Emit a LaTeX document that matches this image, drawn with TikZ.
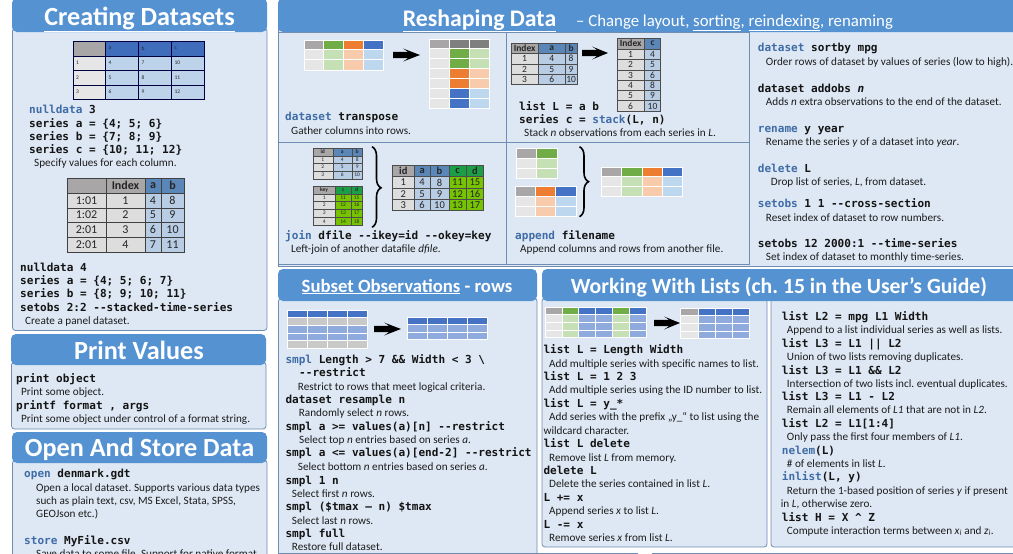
\documentclass[tikz,border=0pt]{standalone}
\usepackage{fontspec}
\usetikzlibrary{decorations.pathreplacing}
\setmainfont{Carlito}
\newfontfamily\codefont{DejaVu Sans Mono}[BoldFont={DejaVu Sans Mono Bold},BoldItalicFont={DejaVu Sans Mono Bold Oblique}]
\frenchspacing
\definecolor{hdr}{HTML}{5592D2}
\definecolor{bodyc}{HTML}{DEE8F4}
\definecolor{edge}{HTML}{6F8DB3}
\definecolor{kwc}{HTML}{3F6CA6}
\definecolor{ink}{HTML}{1C1C1C}
\definecolor{gh}{HTML}{A8A6A6}
\definecolor{gd}{HTML}{7F7F7F}
\definecolor{gl}{HTML}{E7E6E6}
\definecolor{gm}{HTML}{C9C9C9}
\definecolor{gr}{HTML}{70AD47}
\definecolor{gp}{HTML}{C5E0B4}
\definecolor{or}{HTML}{ED7D31}
\definecolor{op}{HTML}{F8CBAD}
\definecolor{bl}{HTML}{4472C4}
\definecolor{bp}{HTML}{BDD7EE}
\definecolor{bm}{HTML}{8FAADC}
\definecolor{th}{HTML}{3F6DBB}
\definecolor{tb}{HTML}{BDD3EA}
\definecolor{sh}{HTML}{5B86B8}
\definecolor{sb}{HTML}{B8CCE4}
\definecolor{sg}{HTML}{DDDDDD}
\definecolor{jg}{HTML}{1B9E45}
\definecolor{jl}{HTML}{76C400}
\tikzset{
  hdrbox/.style={fill=hdr,draw=none,rounded corners=5pt},
  bodybox/.style={fill=bodyc,draw=edge,line width=.8pt,rounded corners=3pt},
  subbox/.style={fill=bodyc,draw=edge,line width=.9pt},
  title/.style={anchor=base,text=white,font=\bfseries\fontsize{26.2}{26.2}\selectfont,inner sep=0pt},
  codetext/.style={anchor=base west,inner sep=0pt,text=black!92,font=\codefont\bfseries\fontsize{11.05}{11}\selectfont},
  desctext/.style={anchor=base west,inner sep=0pt,text=ink,font=\fontsize{11.2}{11}\selectfont},
  pcell/.style={draw=white,line width=.7pt},
  tcell/.style={draw=black!70,line width=.6pt},
  ttext/.style={text=black!85,inner sep=0pt,font=\fontsize{9}{9}\selectfont},
  bracestyle/.style={draw=black,line width=1.6pt,decorate},
}
\newcommand\kw[1]{\textcolor{kwc}{#1}}
\newcommand\cod[3]{\node[codetext] at (#1,#2) {#3};}
\newcommand\dsc[3]{\node[desctext] at (#1,#2) {#3};}
\newcommand\pgrid[3]{\foreach[count=\ri] \rw in {#3}{\foreach[count=\ci] \cl in \rw {%
  \pgfmathsetmacro\xa{{#1}[\ci-1]}\pgfmathsetmacro\xb{{#1}[\ci]}%
  \pgfmathsetmacro\ya{{#2}[\ri-1]}\pgfmathsetmacro\yb{{#2}[\ri]}%
  \path[pcell,fill=\cl] (\xa,\ya) rectangle (\xb,\yb);}}}
\newcommand\tgrid[4]{\begin{scope}[#1]\foreach[count=\ri] \rw in {#4}{\foreach[count=\ci] \cl/\tx in \rw {%
  \pgfmathsetmacro\xa{{#2}[\ci-1]}\pgfmathsetmacro\xb{{#2}[\ci]}%
  \pgfmathsetmacro\ya{{#3}[\ri-1]}\pgfmathsetmacro\yb{{#3}[\ri]}%
  \path[tcell,fill=\cl] (\xa,\ya) rectangle (\xb,\yb);
  \node[ttext] at ({(\xa+\xb)/2},{(\ya+\yb)/2}) {\tx};}}\end{scope}}
\newcommand\bigarrow[3]{\fill[black] (#1,#3-3.2) -- ({#1+15},#3-3.2) -- ({#1+10},#3-6.5) -- (#2,#3) -- ({#1+10},#3+6.5) -- ({#1+15},#3+3.2) -- (#1,#3+3.2) -- cycle;}
\begin{document}
\begin{tikzpicture}[x=1pt,y=-1pt]
\useasboundingbox (0,0) rectangle (1013,554);
\clip (0,0) rectangle (1013,554);
\fill[white] (0,0) rectangle (1013,554);
% ---- left column panels
\path[bodybox] (12.5,28) rectangle (267,330.5);
\path[hdrbox] (12,-2) rectangle (267,32);
\path[bodybox] (11.5,362) rectangle (266,429);
\path[hdrbox] (11,334) rectangle (266,365);
\path[bodybox] (12.5,460) rectangle (267,570);
\path[hdrbox] (12,432) rectangle (267,463);
\node[title] (t1) at (139.5,25.5) {\underline{Creating Datasets}};
\node[title] (t2) at (139,359) {Print Values};
\node[title] (t3) at (139.5,456.5) {Open And Store Data};
% ---- reshaping
\path[subbox] (278,20) rectangle (1020,266.5);
\path[hdrbox] (278,-2) rectangle (1025,32);
\path[subbox] (278,32) rectangle (506,142.5);
\path[subbox] (506,32) rectangle (749.5,142.5);
\path[subbox] (278,142.5) rectangle (506,264);
\path[subbox] (506,142.5) rectangle (749.5,264);
\node[title,font=\bfseries\fontsize{23.8}{23.8}\selectfont] (t4) at (479.5,26) {\underline{Reshaping Data}};
\node[anchor=base west,inner sep=0pt,text=white,font=\fontsize{16.8}{16.8}\selectfont] (t4b) at (576,26) {– Change layout, \underline{sorting}, \underline{reindexing}, renaming};
% ---- bottom panels
\path[bodybox] (278.5,298) rectangle (537,570);
\path[hdrbox] (278,269) rectangle (537,301);
\path[bodybox] (542,298) rectangle (767,547);
\path[bodybox] (771,298) rectangle (1020,547);
\path[hdrbox] (542,269) rectangle (1025,301);
\draw[edge,line width=1pt] (278,553) -- (638,553);
\draw[edge,line width=1pt] (652,553) -- (1020,553);
\node[title,font=\bfseries\fontsize{18.7}{18.7}\selectfont] (t5) at (407,292) {\underline{Subset Observations} - rows};
\node[title,font=\bfseries\fontsize{21.7}{21.7}\selectfont] (t6) at (779,293) {Working With Lists (ch. 15 in the User\symbol{39}s Guide)};
% ---- creating datasets tables
\tgrid{tcell/.append style={draw=black!75!blue,line width=.5pt},ttext/.append style={anchor=west,xshift=-13pt,font=\fontsize{5.5}{5.5}\selectfont}}
  {73,105,138,171,204}{41,56,70,85,99}
  {{gh/{},th/a,th/b,th/c},{gl/1,tb/4,tb/7,tb/10},{gl/2,tb/5,tb/8,tb/11},{gl/3,tb/6,tb/9,tb/12}}
\tgrid{tcell/.append style={draw=black!75,line width=.6pt},ttext/.append style={font=\fontsize{12}{12}\selectfont}}
  {67,106,145,161,184}{178,193,208,222,237,252}
  {{gh/{},gh/\textbf{Index},sh/\textbf{a},sh/\textbf{b}},{sg/1:01,sg/1,sb/4,sb/8},{sg/1:02,sg/2,sb/5,sb/9},{sg/2:01,sg/3,sb/6,sb/10},{sg/2:01,sg/4,sb/7,sb/11}}
\cod{29}{113.7}{\kw{nulldata} 3}
\cod{29}{127}{series a = \{4; 5; 6\}}
\cod{29}{140.3}{series b = \{7; 8; 9\}}
\cod{29}{153.6}{series c = \{10; 11; 12\}}
\dsc{34}{166.7}{Specify values for each column.}
\cod{20}{271}{nulldata 4}
\cod{20}{284.4}{series a = \{4; 5; 6; 7\}}
\cod{20}{297.7}{series b = \{8; 9; 10; 11\}}
\cod{20}{311}{setobs 2:2 --stacked-time-series}
\dsc{25}{324.3}{Create a panel dataset.}
% ---- print values
\cod{16}{382.7}{print object}
\dsc{21}{395.7}{Print some object.}
\cod{16}{409}{printf format , args}
\dsc{21}{422.7}{Print some object under control of a format string.}
% ---- open and store
\cod{24}{477.7}{\kw{open} denmark.gdt}
\dsc{36}{491}{Open a local dataset. Supports various data types}
\dsc{36}{504.3}{such as plain text, csv, MS Excel, Stata, SPSS,}
\dsc{36}{517.7}{GEOJson etc.)}
\cod{24}{544.3}{\kw{store} MyFile.csv}
\dsc{36}{557}{Save data to some file. Support for native format}
% ---- transpose
\pgrid{304,323.7,343.7,363.3,383.3}{40,49.7,59.7,70}{{gh,gr,or,bl},{gl,gp,op,bp},{gl,gp,op,bp}}
\bigarrow{393}{420}{55}
\pgrid{429,449.3,469.3,489}{39,48.7,58.7,68.7,78.7,88.7,98.7,108.7}{{gh,gd,gd},{gl,gr,gp},{gl,gr,gp},{gl,or,op},{gl,or,op},{gl,bl,bp},{gl,bl,bp}}
\cod{285}{120.7}{\kw{dataset} transpose}
\dsc{291}{134}{Gather columns into rows.}
% ---- stack
\tgrid{ttext/.append style={font=\fontsize{9.5}{9.5}\selectfont}}
  {511,538.3,565.3,577}{43,53,64,74.3,84.7}
  {{gh/\textbf{Index},sh/\textbf{a},sh/\textbf{b}},{sg/1,sb/4,sb/8},{sg/2,sb/5,sb/9},{sg/3,sb/6,sb/10}}
\bigarrow{582}{608}{53}
\tgrid{ttext/.append style={font=\fontsize{9.5}{9.5}\selectfont}}
  {617,644.3,660.7}{38.3,49,59.7,70,80,90.3,100.7,111.3}
  {{gh/\textbf{Index},sh/\textbf{c}},{sg/1,sb/4},{sg/2,sb/5},{sg/3,sb/6},{sg/4,sb/8},{sg/5,sb/9},{sg/6,sb/10}}
\cod{519}{110}{list L = a b}
\cod{519}{123.3}{series c = \kw{stack}(L, n)}
\dsc{524}{136.7}{Stack \textit{n} observations from each series in \textit{L}.}
% ---- join
\tgrid{ttext/.append style={font=\fontsize{5.5}{5.5}\selectfont},tcell/.append style={line width=.4pt}}
  {312.7,332.7,352,362.3}{148.3,155.7,163.3,171,178.7}
  {{gh/\textbf{id},sh/\textbf{a},sh/\textbf{b}},{sg/1,sb/4,sb/8},{sg/2,sb/5,sb/9},{sg/3,sb/6,sb/10}}
\tgrid{ttext/.append style={font=\fontsize{5.5}{5.5}\selectfont},tcell/.append style={line width=.4pt}}
  {313,335.3,351,362.3}{185.7,193.7,201.3,209,217.3,225.3}
  {{gh/\textbf{key},jg/\textbf{c},jg/\textbf{d}},{sg/1,jl/11,jl/15},{sg/2,jl/12,jl/16},{sg/3,jl/13,jl/17},{sg/4,jl/14,jl/18}}
\coordinate (ja) at (372,146.7);
\coordinate (jb) at (372,227.3);
\draw[bracestyle,decoration={brace,amplitude=9pt,aspect=.51}] (ja) -- (jb);
\tgrid{ttext/.append style={font=\fontsize{10.5}{10.5}\selectfont}}
  {392.3,414.3,430,449,466,483.7}{165.3,176.7,188.3,199.3,210.3}
  {{gh/\textbf{id},sh/\textbf{a},sh/\textbf{b},jg/\textbf{c},jg/\textbf{d}},{sg/1,sb/4,sb/8,jl/11,jl/15},{sg/2,sb/5,sb/9,jl/12,jl/16},{sg/3,sb/6,sb/10,jl/13,jl/17}}
\cod{285}{239.3}{\kw{join} dfile --ikey=id --okey=key}
\dsc{291}{252.3}{Left-join of another datafile \textit{dfile}.}
% ---- append
\pgrid{516.7,536.7,557}{148.3,158,168,178}{{gh,gr},{gl,gp},{gl,gp}}
\pgrid{515.7,535.7,555.7,576}{186.7,196.3,206.3,216.3}{{gh,or,bl},{gl,op,bp},{gl,op,bp}}
\coordinate (aa) at (579.5,146.7);
\coordinate (ab) at (579.5,216.7);
\draw[bracestyle,decoration={brace,amplitude=9pt}] (aa) -- (ab);
\pgrid{601.7,621.7,642,662,682}{167,176.3,186.3,196.3}{{gh,gr,or,bl},{gl,gp,op,bp},{gl,gp,op,bp}}
\cod{515}{239}{\kw{append} filename}
\dsc{520}{252.3}{Append columns and rows from another file.}
% ---- right column of reshaping
\cod{757.7}{51.7}{\kw{dataset} sortby mpg}
\dsc{765.7}{65}{Order rows of dataset by values of series (low to high).}
\cod{757.7}{92}{dataset addobs \textit{n}}
\dsc{765.7}{105}{Adds \textit{n} extra observations to the end of the dataset.}
\cod{757.7}{132}{\kw{rename} y year}
\dsc{765.7}{145}{Rename the series \textit{y} of a dataset into \textit{year}.}
\cod{757.7}{172}{\kw{delete} L}
\dsc{770.7}{185.7}{Drop list of series, \textit{L}, from dataset.}
\cod{757.7}{207.3}{\kw{setobs} 1 1 --cross-section}
\dsc{765.7}{221}{Reset index of dataset to row numbers.}
\cod{757.7}{247.3}{setobs 12 2000:1 --time-series}
\dsc{765.7}{260.7}{Set index of dataset to monthly time-series.}
% ---- subset
\pgrid{287,307,327,347,367}{310,317,325.3,333,340.3,348}{{bl,bl,bl,bl},{gm,gm,gm,gm},{bm,bm,bm,bm},{bm,bm,bm,bm},{gm,gm,gm,gm}}
\bigarrow{374}{401}{329}
\pgrid{407,427,447,467,487}{317,324.3,332,339.7}{{bl,bl,bl,bl},{bm,bm,bm,bm},{bm,bm,bm,bm}}
\cod{285.3}{363.3}{\kw{smpl} Length > 7 \&\& Width < 3 \textbackslash}
\cod{299}{376.7}{--restrict}
\dsc{297.7}{390}{Restrict to rows that meet logical criteria.}
\cod{285.3}{403.3}{dataset resample n}
\dsc{298.7}{416.7}{Randomly select \textit{n} rows.}
\cod{285.3}{430}{smpl a >= values(a)[n] --restrict}
\dsc{299}{443.3}{Select top \textit{n} entries based on series \textit{a}.}
\cod{285.3}{456.7}{smpl a <= values(a)[end-2] --restrict}
\dsc{297.7}{470}{Select bottom \textit{n} entries based on series \textit{a}.}
\cod{285.3}{484}{smpl 1 n}
\dsc{291.7}{497.3}{Select first \textit{n} rows.}
\cod{285.3}{510.7}{smpl (\$tmax – n) \$tmax}
\dsc{291.7}{524}{Select last \textit{n} rows.}
\cod{285.3}{537.3}{smpl full}
\dsc{291.7}{550.7}{Restore full dataset.}
% ---- working with lists
\pgrid{545.7,562,578.7,595.7,612.7,629.3,646}{307,314.7,322.3,330,337.3}{{gh,gr,bl,bl,gr,bl},{gl,gp,bm,bm,gp,bm},{gl,gp,bm,bm,gp,bm},{gl,gp,bm,bm,gp,bm}}
\bigarrow{654}{680}{323}
\pgrid{680.7,698,715.3,732.7,749.3}{308,315.3,323.3,331,338.7}{{gh,bl,bl,bl},{gl,bm,bm,bm},{gl,bm,bm,bm},{gl,bm,bm,bm}}
\cod{543.3}{353.7}{list L = Length Width}
\dsc{549}{367}{Add multiple series with specific names to list.}
\cod{543.3}{380.7}{list L = 1 2 3}
\dsc{549}{393.7}{Add multiple series using the ID number to list.}
\cod{543.3}{407.3}{list L = y\_*}
\dsc{549}{420.7}{Add series with the prefix „y\_“ to list using the}
\dsc{543.3}{434}{wildcard character.}
\cod{543.3}{447.7}{list L delete}
\dsc{549}{461}{Remove list \textit{L} from memory.}
\cod{543.3}{474.3}{delete L}
\dsc{549}{487.7}{Delete the series contained in list \textit{L}.}
\cod{543.3}{501.3}{L += x}
\dsc{549}{514.3}{Append series \textit{x} to list \textit{L}.}
\cod{543.3}{528}{L -= x}
\dsc{549}{541.3}{Remove series \textit{x} from list \textit{L}.}
% ---- working with lists, right
\cod{781.7}{320.3}{list L2 = mpg L1 Width}
\dsc{786.7}{333.3}{Append to a list individual series as well as lists.}
\cod{781.7}{347.3}{list L3 = L1 || L2}
\dsc{786.7}{360}{Union of two lists removing duplicates.}
\cod{781.7}{374}{list L3 = L1 \&\& L2}
\dsc{786.7}{387}{Intersection of two lists incl. eventual duplicates.}
\cod{781.7}{400.7}{list L3 = L1 - L2}
\dsc{786.7}{413.7}{Remain all elements of \textit{L1} that are not in \textit{L2}.}
\cod{781.7}{427.3}{list L2 = L1[1:4]}
\dsc{786.7}{440.3}{Only pass the first four members of \textit{L1}.}
\cod{781.7}{454}{\kw{nelem}(L)}
\dsc{786.7}{467.3}{\# of elements in list \textit{L}.}
\cod{781.7}{480.7}{\kw{inlist}(L, y)}
\dsc{786.7}{494}{Return the 1-based position of series \textit{y} if present}
\dsc{780.7}{507.3}{in \textit{L}, otherwise zero.}
\cod{781.7}{521.3}{list H = X \textasciicircum{} Z}
\dsc{786.7}{534.3}{Compute interaction terms between \textit{x}\textsubscript{\textit{i}} and \textit{z}\textsubscript{\textit{i}}.}
\end{tikzpicture}
\end{document}
